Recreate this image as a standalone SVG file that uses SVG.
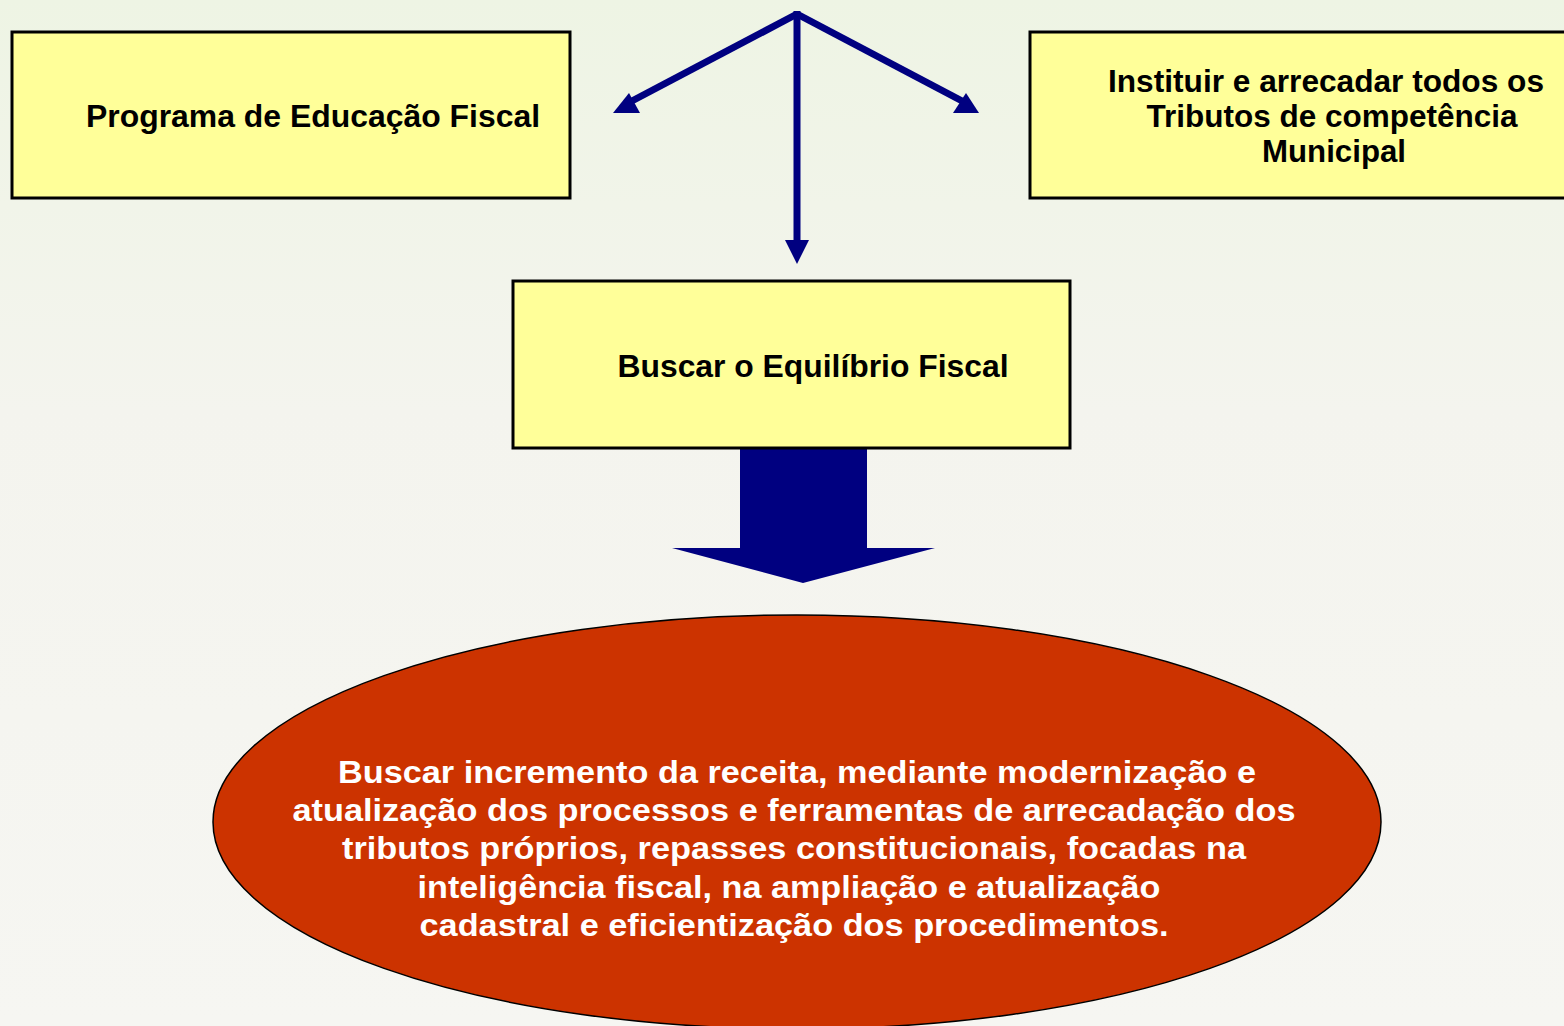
<svg xmlns="http://www.w3.org/2000/svg" width="1564" height="1026" viewBox="0 0 1564 1026">
<defs>
<linearGradient id="bg" x1="0" y1="0" x2="0" y2="1">
<stop offset="0" stop-color="#eef4e4"/>
<stop offset="0.4" stop-color="#f4f4ee"/>
<stop offset="1" stop-color="#f6f6f2"/>
</linearGradient>
<style>
.box{fill:#ffff99;stroke:#000;stroke-width:3}
.t{font-family:"Liberation Sans",Arial,Helvetica,sans-serif;font-weight:bold;font-size:31px;fill:#000;text-anchor:middle}
.w{fill:#fff}
.ln{stroke:#000080;stroke-width:7;fill:none}
.hd{fill:#000080}
</style>
</defs>
<rect width="1564" height="1026" fill="url(#bg)"/>
<g id="connectors">
<line class="ln" x1="797" y1="14" x2="630" y2="102"/>
<polygon class="hd" points="613,113 640,113 629,93"/>
<line class="ln" x1="797" y1="14" x2="964" y2="102"/>
<polygon class="hd" points="953,113 979,113 966,93"/>
<line class="ln" x1="797" y1="11" x2="797" y2="245"/>
<polygon class="hd" points="785,240 809,240 797,264"/>
<polygon class="hd" points="740,449 867,449 867,548 935,548 803,583 672,548 740,548"/>
</g>
<g id="n-programa">
<rect class="box" x="12" y="32" width="558" height="166"/>
<text class="t" x="313" y="127" textLength="454" lengthAdjust="spacingAndGlyphs">Programa de Educação Fiscal</text>
</g>
<g id="n-instituir">
<rect class="box" x="1030" y="32" width="540" height="166"/>
<text class="t" x="1326" y="92" textLength="436" lengthAdjust="spacingAndGlyphs">Instituir e arrecadar todos os</text>
<text class="t" x="1332" y="127" textLength="371" lengthAdjust="spacingAndGlyphs">Tributos de competência</text>
<text class="t" x="1334" y="162" textLength="144" lengthAdjust="spacingAndGlyphs">Municipal</text>
</g>
<g id="n-buscar">
<rect class="box" x="513" y="281" width="557" height="167"/>
<text class="t" x="813" y="377" textLength="391" lengthAdjust="spacingAndGlyphs">Buscar o Equilíbrio Fiscal</text>
</g>
<g id="n-incremento">
<ellipse cx="797" cy="822" rx="584" ry="207" fill="#cc3300" stroke="#000" stroke-width="1.5"/>
<text class="t w" x="797" y="783" textLength="918" lengthAdjust="spacingAndGlyphs">Buscar incremento da receita, mediante modernização e</text>
<text class="t w" x="794" y="821" textLength="1003" lengthAdjust="spacingAndGlyphs">atualização dos processos e ferramentas de arrecadação dos</text>
<text class="t w" x="794" y="859" textLength="904" lengthAdjust="spacingAndGlyphs">tributos próprios, repasses constitucionais, focadas na</text>
<text class="t w" x="789" y="898" textLength="743" lengthAdjust="spacingAndGlyphs">inteligência fiscal, na ampliação e atualização</text>
<text class="t w" x="794" y="936" textLength="749" lengthAdjust="spacingAndGlyphs">cadastral e eficientização dos procedimentos.</text>
</g>
</svg>
